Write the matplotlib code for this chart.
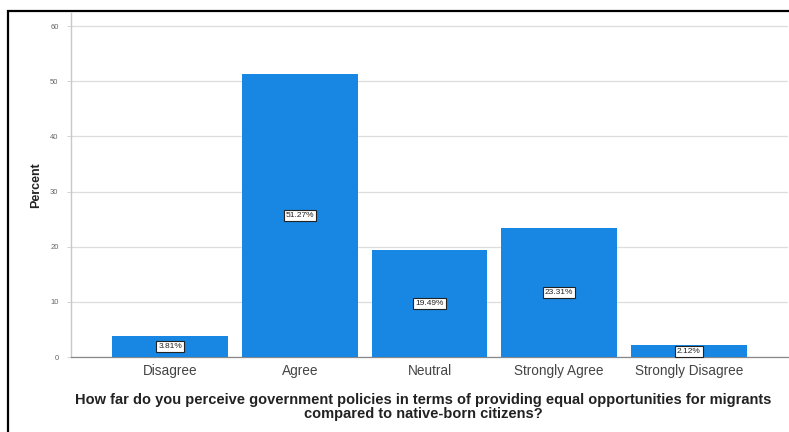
import matplotlib
matplotlib.use("Agg")
import matplotlib.pyplot as plt
from matplotlib.patches import Rectangle

plt.rcParams['font.family'] = ['Liberation Sans', 'DejaVu Sans']

categories = ["Disagree", "Agree", "Neutral", "Strongly Agree", "Strongly Disagree"]
percent = [3.81, 51.27, 19.49, 23.31, 2.12]
yticks = [0, 10, 20, 30, 40, 50, 60]

bar_color = "#1787e3"

fig = plt.figure(figsize=(7.89, 4.32), dpi=100)
ax = fig.add_axes([0.090, 0.1736, 0.9087, 0.7964])

x = range(len(categories))
bars = ax.bar(x, percent, width=0.894, color=bar_color, zorder=3)

for xi, v in zip(x, percent):
    ax.text(xi, v / 2, f"{v:.2f}%", ha="center", va="center", fontsize=6,
            color="#222222", zorder=4,
            bbox=dict(boxstyle="square,pad=0.25", fc="white", ec="#222222", lw=0.8))

ax.set_xlim(-0.765, 4.765)
ax.set_ylim(0, 62.4)
ax.set_yticks(yticks)
ax.set_yticklabels([str(t) for t in yticks], fontsize=5.5, color="#666666")
ax.set_xticks(list(x))
ax.set_xticklabels(categories, fontsize=9.8, color="#444444")
ax.tick_params(axis="x", length=0, pad=5)
ax.tick_params(axis="y", length=3, width=0.6, color="#cccccc", pad=6)

ax.grid(axis="y", color="#dddddd", lw=0.9, zorder=0)
for side in ("top", "right"):
    ax.spines[side].set_visible(False)
ax.spines["left"].set_color("#c8c8c8")
ax.spines["left"].set_linewidth(1.0)
ax.spines["bottom"].set_color("#888888")
ax.spines["bottom"].set_linewidth(0.9)

ax.set_ylabel("Percent", fontsize=9, fontweight="bold", color="#222222", labelpad=6)
ax.set_xlabel("How far do you perceive government policies in terms of providing equal opportunities for migrants\n"
              "compared to native-born citizens?",
              fontsize=10.5, fontweight="bold", color="#222222", linespacing=0.98)
ax.xaxis.set_label_coords(0.491, -0.106)
ax.xaxis.label.set_verticalalignment("top")

# outer frame around the chart
fig.patches.append(Rectangle((7.5 / 789, -0.2), 1.2, (432 - 11) / 432 + 0.2,
                             transform=fig.transFigure, fill=False,
                             ec="black", lw=1.6, zorder=10))

fig.savefig("out.png", dpi=100)
